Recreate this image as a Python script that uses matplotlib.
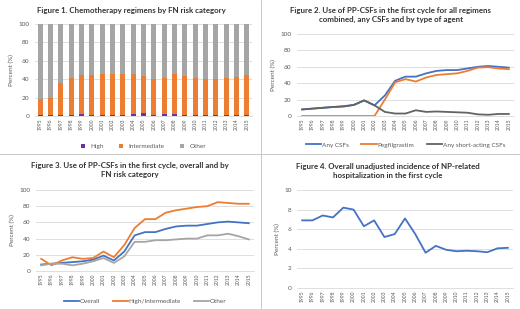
import matplotlib
matplotlib.use("Agg")
import matplotlib.pyplot as plt
from matplotlib.lines import Line2D
import numpy as np

plt.rcParams['font.family'] = ['Lato', 'DejaVu Sans']

years = [str(y) for y in range(1995, 2016)]

# Figure 1 - chemotherapy regimens by FN risk (percent)
high = [1.5, 1.5, 1.5, 1.5, 2.5, 1.5, 1.5, 1.5, 1.5, 2.5, 3.0, 1.5, 2.5, 2.0, 1.5, 1.5, 1.5, 1.5, 1.5, 1.5, 1.5]
intermediate = [17.5, 18.5, 34.5, 39.5, 42.5, 43.5, 44.5, 44.5, 44.5, 43.5, 41.0, 38.5, 38.5, 44.0, 42.5, 39.5, 38.5, 38.5, 39.5, 40.5, 43.5]
other = [100 - h - i for h, i in zip(high, intermediate)]

# Figure 2 - PP-CSF use by agent
any_csf = [8, 9, 10, 11, 12, 13.5, 19, 13, 25, 43, 48, 48, 52, 55, 56, 56, 58, 60, 61, 60, 59]
pegfil = [0, 0, 0, 0, 0, 0, 0, 0, 20, 41, 45, 42, 47, 50, 51, 52, 55, 59, 59.5, 58, 57]
short_acting = [8, 9, 10, 11, 11.5, 13.5, 19, 13, 5, 3, 3, 7, 5, 5.5, 5, 4.5, 4, 2, 1.5, 2.5, 2.5]

# Figure 3 - PP-CSF use by FN risk
overall = [8, 9, 10, 11, 12, 14, 19, 13, 24, 44, 48, 48, 52, 55, 56, 56, 58, 60, 61, 60, 59]
high_int = [15, 7, 13, 17, 15, 16, 24, 17, 32, 53, 64, 64, 72, 75, 77, 79, 80, 85, 84, 83, 83]
other_risk = [7, 9, 9, 7, 9, 12, 16, 10, 18, 36, 36, 38, 38, 39, 40, 40, 44, 44, 46, 43, 39]

# Figure 4 - NP-related hospitalization
np_hosp = [6.9, 6.9, 7.4, 7.2, 8.2, 8.0, 6.3, 6.9, 5.2, 5.5, 7.1, 5.5, 3.6, 4.3, 3.9, 3.75, 3.8, 3.75, 3.65, 4.05, 4.1]

PURPLE = '#7030A0'
ORANGE = '#ED7D31'
GRAY = '#A5A5A5'
BLUE = '#4472C4'
DARK = '#636363'
TXT = '#595959'
GRID = '#D9D9D9'
TITLE = '#333333'

W, H = 520, 309
fig = plt.figure(figsize=(W / 100, H / 100), dpi=100)


def px_axes(x0, x1, y_top, y_bot):
    return fig.add_axes([x0 / W, 1 - y_bot / H, (x1 - x0) / W, (y_bot - y_top) / H])


def style(ax, ymax, step, x):
    ax.set_ylim(0, ymax)
    ax.set_yticks(np.arange(0, ymax + 0.01, step))
    ax.set_xlim(-0.5, len(x) - 0.5)
    ax.set_xticks(range(len(x)))
    ax.set_xticklabels(x, rotation=90, fontsize=3.6, color=TXT)
    ax.tick_params(axis='y', labelsize=4.6, colors=TXT, length=0, pad=4)
    ax.tick_params(axis='x', length=0, pad=2)
    for s in ['top', 'right', 'left']:
        ax.spines[s].set_visible(False)
    ax.spines['bottom'].set_color(GRID)
    ax.spines['bottom'].set_linewidth(0.6)
    ax.grid(axis='y', color=GRID, linewidth=0.6)
    ax.set_axisbelow(True)
    ax.set_ylabel('Percent (%)', fontsize=4.6, color=TXT, labelpad=3)


def line_legend(ax, y):
    ax.legend(loc='upper center', bbox_to_anchor=(0.5, y), ncol=3, frameon=False,
              fontsize=4.6, handlelength=2.4, columnspacing=2.0, labelcolor=TXT,
              handletextpad=0.1)


xs = np.arange(len(years))

# panel 1
ax1 = px_axes(35, 252, 24, 116)
ax1.bar(xs, high, width=0.5, color=PURPLE, label='High')
ax1.bar(xs, intermediate, width=0.5, bottom=high, color=ORANGE, label='Intermediate')
ax1.bar(xs, other, width=0.5, bottom=[h + i for h, i in zip(high, intermediate)], color=GRAY, label='Other')
style(ax1, 100, 20, years)
ax1.legend(loc='upper center', bbox_to_anchor=(0.5, -0.24), ncol=3, frameon=False,
           fontsize=4.6, handlelength=0.6, handleheight=0.6, columnspacing=2.5,
           labelcolor=TXT, handletextpad=0.8)
fig.text(131 / W, 1 - 10 / H, 'Figure 1. Chemotherapy regimens by FN risk category',
         ha='center', va='center', fontsize=5.7, fontweight='bold', color=TITLE)

# panel 2
ax2 = px_axes(297, 514, 34, 116)
ax2.plot(xs, any_csf, color=BLUE, lw=1.3, label='Any CSFs')
ax2.plot(xs, pegfil, color=ORANGE, lw=1.3, label='Pegfilgrastim')
ax2.plot(xs, short_acting, color=DARK, lw=1.3, label='Any short-acting CSFs')
style(ax2, 100, 20, years)
line_legend(ax2, -0.25)
fig.text(391 / W, 1 - 15 / H,
         'Figure 2. Use of PP-CSFs in the first cycle for all regimens\ncombined, any CSFs and by type of agent',
         ha='center', va='center', fontsize=5.7, fontweight='bold', color=TITLE, linespacing=1.35)

# panel 3
ax3 = px_axes(36, 254, 190, 271)
ax3.plot(xs, overall, color=BLUE, lw=1.3, label='Overall')
ax3.plot(xs, high_int, color=ORANGE, lw=1.3, label='High/Intermediate')
ax3.plot(xs, other_risk, color=GRAY, lw=1.3, label='Other')
style(ax3, 100, 20, years)
line_legend(ax3, -0.27)
fig.text(130 / W, 1 - 170 / H,
         'Figure 3. Use of PP-CSFs in the first cycle, overall and by\nFN risk category',
         ha='center', va='center', fontsize=5.7, fontweight='bold', color=TITLE, linespacing=1.35)

# panel 4
ax4 = px_axes(297, 513, 190, 288)
ax4.plot(xs, np_hosp, color=BLUE, lw=1.3)
style(ax4, 10, 2, years)
fig.text(388 / W, 1 - 171 / H,
         'Figure 4. Overall unadjusted incidence of NP-related\nhospitalization in the first cycle',
         ha='center', va='center', fontsize=5.7, fontweight='bold', color=TITLE, linespacing=1.35)

# separators between panels
fig.add_artist(Line2D([0, 1], [1 - 154 / H, 1 - 154 / H], transform=fig.transFigure, color='#C8C8C8', lw=0.7))
fig.add_artist(Line2D([261 / W, 261 / W], [0, 1], transform=fig.transFigure, color='#C8C8C8', lw=0.7))

fig.savefig('out.png', dpi=100, facecolor='white')
